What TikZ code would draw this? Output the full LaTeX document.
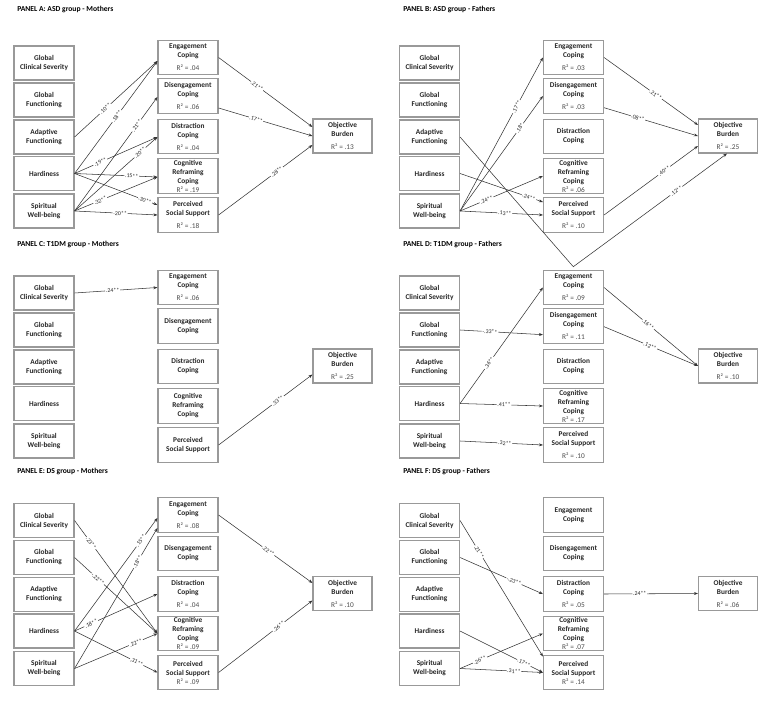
\documentclass[tikz,border=0pt]{standalone}
\usepackage{fontspec}
\setmainfont{Carlito}
\usetikzlibrary{arrows.meta,calc}
\newcommand{\rsq}[1]{{\mdseries\color{black!70}R² = #1}}
\tikzset{
 box/.style={draw=black!40, line width=0.85pt, rectangle, minimum width=45pt, minimum height=25.5pt, inner sep=0pt, align=center, font=\fontsize{5.5}{6.75}\selectfont\bfseries, text=black!85},
 med/.style={box, minimum height=26pt},
 ob/.style={box, minimum width=44.25pt},
 conn/.style={draw=black!80, line width=0.4pt, -{Stealth[length=3pt,width=2.2pt]}},
 lab/.style={sloped, fill=white, inner sep=0.6pt, font=\fontsize{4.4}{5}\selectfont, text=black!85},
 ttl/.style={anchor=west, font=\fontsize{5.7}{7}\selectfont\bfseries, inner sep=0pt},
}
\begin{document}
\begin{tikzpicture}[x=0.75pt,y=-0.75pt]
\useasboundingbox (0,0) rectangle (780,716);
\fill[white] (0,0) rectangle (780,716);

% titles
\node[ttl] (tA) at (17,9.5) {PANEL A: ASD group - Mothers};
\node[ttl] (tB) at (403,9.5) {PANEL B: ASD group - Fathers};
\node[ttl] (tC) at (17,244.5) {PANEL C: T1DM group - Mothers};
\node[ttl] (tD) at (403,244.5) {PANEL D: T1DM group - Fathers};
\node[ttl] (tE) at (17,471.5) {PANEL E: DS group - Mothers};
\node[ttl] (tF) at (403,471.5) {PANEL F: DS group - Fathers};

% ---------- Panel A
\begin{scope}[shift={(0,0)}]
\node[box] (A1) at (44,63) {Global\\Clinical Severity};
\node[box] (A2) at (44,100) {Global\\Functioning};
\node[box] (A3) at (44,137) {Adaptive\\Functioning};
\node[box] (A4) at (44,173.5) {Hardiness};
\node[box] (A5) at (44,211) {Spiritual\\Well-being};
\node[med] (AE) at (188,57.5) {Engagement\\Coping\\[3pt]\rsq{.04}};
\node[med] (AD) at (188,96) {Disengagement\\Coping\\[3pt]\rsq{.06}};
\node[med] (AX) at (188,136.5) {Distraction\\Coping\\[3pt]\rsq{.04}};
\node[med] (AC) at (188,176) {Cognitive\\Reframing\\Coping\\\rsq{.19}};
\node[med] (AP) at (188,215) {Perceived\\Social Support\\[3pt]\rsq{.18}};
\node[ob] (AO) at (342.5,136) {Objective\\Burden\\[3pt]\rsq{.13}};
\end{scope}

% ---------- Panel B
\begin{scope}[shift={(385.5,0)}]
\node[box] (B1) at (44,63) {Global\\Clinical Severity};
\node[box] (B2) at (44,100) {Global\\Functioning};
\node[box] (B3) at (44,137) {Adaptive\\Functioning};
\node[box] (B4) at (44,173.5) {Hardiness};
\node[box] (B5) at (44,211) {Spiritual\\Well-being};
\node[med] (BE) at (188,57.5) {Engagement\\Coping\\[3pt]\rsq{.03}};
\node[med] (BD) at (188,96) {Disengagement\\Coping\\[3pt]\rsq{.03}};
\node[med] (BX) at (188,136.5) {Distraction\\Coping};
\node[med] (BC) at (188,176) {Cognitive\\Reframing\\Coping\\\rsq{.06}};
\node[med] (BP) at (188,215) {Perceived\\Social Support\\[3pt]\rsq{.10}};
\node[ob] (BO) at (342.5,136) {Objective\\Burden\\[3pt]\rsq{.25}};
\end{scope}

% ---------- Panel C
\begin{scope}[shift={(0,230)}]
\node[box] (C1) at (44,63) {Global\\Clinical Severity};
\node[box] (C2) at (44,100) {Global\\Functioning};
\node[box] (C3) at (44,137) {Adaptive\\Functioning};
\node[box] (C4) at (44,173.5) {Hardiness};
\node[box] (C5) at (44,211) {Spiritual\\Well-being};
\node[med] (CE) at (188,57.5) {Engagement\\Coping\\[3pt]\rsq{.06}};
\node[med] (CD) at (188,96) {Disengagement\\Coping};
\node[med] (CX) at (188,136.5) {Distraction\\Coping};
\node[med] (CC) at (188,176) {Cognitive\\Reframing\\Coping};
\node[med] (CP) at (188,215) {Perceived\\Social Support};
\node[ob] (CO) at (342.5,136) {Objective\\Burden\\[3pt]\rsq{.25}};
\end{scope}

% ---------- Panel D
\begin{scope}[shift={(385.5,230)}]
\node[box] (D1) at (44,63) {Global\\Clinical Severity};
\node[box] (D2) at (44,100) {Global\\Functioning};
\node[box] (D3) at (44,137) {Adaptive\\Functioning};
\node[box] (D4) at (44,173.5) {Hardiness};
\node[box] (D5) at (44,211) {Spiritual\\Well-being};
\node[med] (DE) at (188,57.5) {Engagement\\Coping\\[3pt]\rsq{.09}};
\node[med] (DD) at (188,96) {Disengagement\\Coping\\[3pt]\rsq{.11}};
\node[med] (DX) at (188,136.5) {Distraction\\Coping};
\node[med] (DC) at (188,176) {Cognitive\\Reframing\\Coping\\\rsq{.17}};
\node[med] (DP) at (188,215) {Perceived\\Social Support\\[3pt]\rsq{.10}};
\node[ob] (DO) at (342.5,136) {Objective\\Burden\\[3pt]\rsq{.10}};
\end{scope}

% ---------- Panel E
\begin{scope}[shift={(0,457.5)}]
\node[box] (E1) at (44,63) {Global\\Clinical Severity};
\node[box] (E2) at (44,100) {Global\\Functioning};
\node[box] (E3) at (44,137) {Adaptive\\Functioning};
\node[box] (E4) at (44,173.5) {Hardiness};
\node[box] (E5) at (44,211) {Spiritual\\Well-being};
\node[med] (EE) at (188,57.5) {Engagement\\Coping\\[3pt]\rsq{.08}};
\node[med] (ED) at (188,96) {Disengagement\\Coping};
\node[med] (EX) at (188,136.5) {Distraction\\Coping\\[3pt]\rsq{.04}};
\node[med] (EC) at (188,176) {Cognitive\\Reframing\\Coping\\\rsq{.09}};
\node[med] (EP) at (188,215) {Perceived\\Social Support\\\rsq{.09}};
\node[ob] (EO) at (342.5,136) {Objective\\Burden\\[3pt]\rsq{.10}};
\end{scope}

% ---------- Panel F
\begin{scope}[shift={(385.5,457.5)}]
\node[box] (F1) at (44,63) {Global\\Clinical Severity};
\node[box] (F2) at (44,100) {Global\\Functioning};
\node[box] (F3) at (44,137) {Adaptive\\Functioning};
\node[box] (F4) at (44,173.5) {Hardiness};
\node[box] (F5) at (44,211) {Spiritual\\Well-being};
\node[med] (FE) at (188,57.5) {Engagement\\Coping};
\node[med] (FD) at (188,96) {Disengagement\\Coping};
\node[med] (FX) at (188,136.5) {Distraction\\Coping\\[3pt]\rsq{.05}};
\node[med] (FC) at (188,176) {Cognitive\\Reframing\\Coping\\\rsq{.07}};
\node[med] (FP) at (188,215) {Perceived\\Social Support\\\rsq{.14}};
\node[ob] (FO) at (342.5,136) {Objective\\Burden\\[3pt]\rsq{.06}};
\end{scope}

% ---------- edges A
\draw[conn] (A3.east) -- node[lab,pos=.37]{.10**} ($(AE.west)+(0,3.5)$);
\draw[conn] (A4.east) -- node[lab,pos=.51]{.18**} ($(AE.west)+(0,3.5)$);
\draw[conn] (A5.east) -- node[lab,pos=.75]{.21**} ($(AD.west)+(0,1)$);
\draw[conn] (A5.east) -- node[lab,pos=.79]{.20**} ($(AX.west)+(0,0.5)$);
\draw[conn] (A4.east) -- node[lab,pos=.31]{.19**} ($(AX.west)+(0,0.5)$);
\draw[conn] (A4.east) -- node[lab,pos=.69]{.15**} ($(AC.west)+(0,1)$);
\draw[conn] (A5.east) -- node[lab,pos=.31]{.32**} ($(AC.west)+(0,1)$);
\draw[conn] (A4.east) -- node[lab,pos=.85]{.30**} ($(AP.west)+(0,-10)$);
\draw[conn] (A5.east) -- node[lab,pos=.55]{.20**} (AP.west);
\draw[conn] (AE.east) -- node[lab,pos=.41]{.21**} ($(AO.west)+(0,-9)$);
\draw[conn] ($(AD.east)+(0,12)$) -- node[lab,pos=.4]{.17**} (AO.west);
\draw[conn] (AP.east) -- node[lab,pos=.62]{.28**} ($(AO.west)+(0,9)$);

% ---------- edges B
\coordinate (Bv) at (573.3,266.7);
\draw[conn] (B5.east) -- node[lab,pos=.68]{.17**} (BE.west);
\draw[conn] (B5.east) -- node[lab,pos=.72]{.18*} (BD.west);
\draw[conn] (B3.east) -- (Bv) -- node[lab,pos=.67]{.12**} ($(BO.south)+(-1,0)$);
\draw[conn] (B4.east) -- node[lab,pos=.83]{.24**} ($(BP.west)+(0,-13)$);
\draw[conn] (B5.east) -- node[lab,pos=.32]{.24**} (BC.west);
\draw[conn] (B5.east) -- node[lab,pos=.54]{.13**} (BP.west);
\draw[conn] (BE.east) -- node[lab,pos=.55]{.21**} ($(BO.west)+(0,-11)$);
\draw[conn] ($(BD.east)+(0,11.7)$) -- node[lab,pos=.36]{.08**} (BO.west);
\draw[conn] (BP.east) -- node[lab,pos=.64]{.40**} ($(BO.west)+(0,10)$);

% ---------- edges C
\draw[conn] (C1.east) -- node[lab,pos=.46]{.24**} (CE.west);
\draw[conn] (CP.east) -- node[lab,pos=.63]{.33**} ($(CO.west)+(0,8.5)$);

% ---------- edges D
\draw[conn] (D2.east) -- node[lab,pos=.36]{-.33**} ($(DD.west)+(0,8.7)$);
\draw[conn] (D4.east) -- node[lab,pos=.35]{.36**} (DE.west);
\draw[conn] (D4.east) -- node[lab,pos=.53]{.41**} (DC.west);
\draw[conn] (D5.east) -- node[lab,pos=.54]{.32**} (DP.west);
\draw[conn] (DE.east) -- node[lab,pos=.47]{.16**} (DO.west);
\draw[conn] ($(DD.east)+(0,0.7)$) -- node[lab,pos=.49]{.12**} (DO.west);

% ---------- edges E
\draw[conn] (E1.east) -- node[lab,pos=.2]{.23**} (EC.west);
\draw[conn] (E2.east) -- node[lab,pos=.28]{-.22**} (EC.west);
\draw[conn] (E4.east) -- node[lab,pos=.8]{.15**} ($(EE.west)+(0,3)$);
\draw[conn] (E5.east) -- node[lab,pos=.76]{.18**} ($(EE.west)+(0,13)$);
\draw[conn] (E4.east) -- node[lab,pos=.2]{.18**} (EX.west);
\draw[conn] (E5.east) -- node[lab,pos=.74]{.22**} (EC.west);
\draw[conn] (E4.east) -- node[lab,pos=.75]{.31**} (EP.west);
\draw[conn] (EE.east) -- node[lab,pos=.53]{.22**} ($(EO.west)+(0,-10.5)$);
\draw[conn] (EP.east) -- node[lab,pos=.64]{.26**} ($(EO.west)+(0,7)$);

% ---------- edges F
\draw[conn] (F1.east) -- node[lab,pos=.23]{.21**} ($(FP.west)+(0,-16)$);
\draw[conn] (F2.east) -- node[lab,pos=.65]{-.23**} (FX.west);
\draw[conn] (F4.east) -- node[lab,pos=.77]{.17**} (FP.west);
\draw[conn] (F5.east) -- node[lab,pos=.24]{.26**} (FC.west);
\draw[conn] (F5.east) -- node[lab,pos=.65]{.31**} (FP.west);
\draw[conn] (FX.east) -- node[lab,pos=.38]{.24**} (FO.west);
\end{tikzpicture}
\end{document}
